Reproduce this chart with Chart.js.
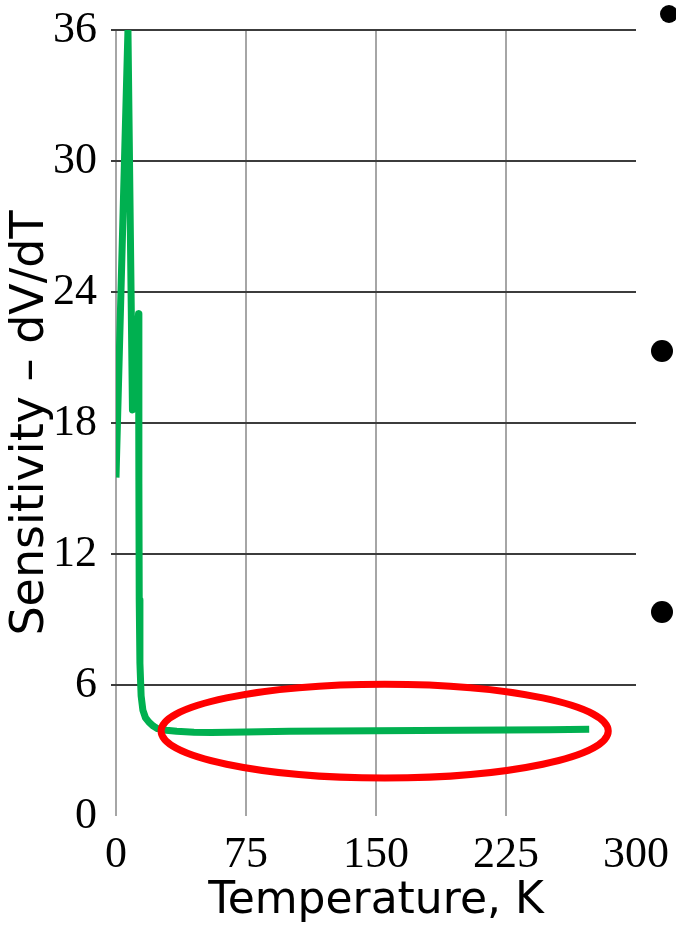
<!DOCTYPE html>
<html>
<head>
<meta charset="utf-8">
<script src="https://cdn.jsdelivr.net/npm/chart.js@4"></script>
<style>
	html, body { margin: 0; padding: 0; background: #fff; overflow: hidden; }
	#wrap { position: relative; width: 676px; height: 928px; }
	.dot { position: absolute; background: #000; border-radius: 50%; }
</style>
</head>
<body>
<div id="wrap">
	<canvas id="sensChart" width="676" height="928"></canvas>
	<div class="dot" style="left:660px; top:5px; width:18px; height:18px;"></div>
	<div class="dot" style="left:651px; top:340px; width:22px; height:22px;"></div>
	<div class="dot" style="left:651px; top:601px; width:22px; height:22px;"></div>
</div>
<script>
// data block
const temperature = [0, 6.9, 9.5, 13.0, 13.2, 13.4, 13.8, 14.5, 15.5, 17, 19, 21.5, 24, 29, 35, 45, 55, 75, 100, 150, 200, 250, 273];
const sensitivity = [15.5, 36, 18.6, 23.0, 15.4, 9.9, 7.0, 5.5, 4.85, 4.5, 4.3, 4.12, 4.0, 3.93, 3.88, 3.84, 3.83, 3.85, 3.88, 3.9, 3.93, 3.95, 3.97];
const xTicks = [0, 75, 150, 225, 300];
const yTicks = [0, 6, 12, 18, 24, 30, 36];

// highlighted region (data units)
const highlight = { t: 155, v: 3.89, dt: 129, dv: 2.15 };

const points = temperature.map((t, i) => ({ x: t, y: sensitivity[i] }));

// red ellipse drawn on top of the line
const ellipsePlugin = {
	id: 'ellipse',
	afterDatasetsDraw(chart) {
		const { ctx, scales } = chart;
		const cx = scales.x.getPixelForValue(highlight.t);
		const cy = scales.y.getPixelForValue(highlight.v);
		const rx = scales.x.getPixelForValue(highlight.t + highlight.dt) - cx;
		const ry = cy - scales.y.getPixelForValue(highlight.v + highlight.dv);
		ctx.save();
		ctx.beginPath();
		ctx.ellipse(cx, cy, rx, ry, 0, 0, Math.PI * 2);
		ctx.strokeStyle = '#ff0000';
		ctx.lineWidth = 7;
		ctx.stroke();
		ctx.restore();
	},
};

// no extra label padding, the layout padding decides the plot box
function noScalePadding(scale) {
	scale.paddingTop = 0;
	scale.paddingBottom = 0;
	scale.paddingLeft = 0;
	scale.paddingRight = 0;
}

const config = {
	type: 'line',
	data: {
		datasets: [
			{
				label: 'Sensitivity',
				data: points,
				borderColor: '#00b050',
				borderWidth: 7,
				borderJoinStyle: 'round',
				borderCapStyle: 'butt',
				pointRadius: 0,
				tension: 0,
				fill: false,
			},
		],
	},
	options: {
		responsive: false,
		animation: false,
		layout: { padding: { left: 0, right: 40, top: 30, bottom: 0 } },
		plugins: {
			legend: { display: false },
			tooltip: { enabled: false },
		},
		scales: {
			x: {
				type: 'linear',
				min: 0,
				max: 300,
				afterBuildTicks: (scale) => { scale.ticks = xTicks.map((v) => ({ value: v })); },
				afterFit: (scale) => { scale.height = 112; noScalePadding(scale); },
				ticks: {
					color: '#000',
					padding: 13,
					maxRotation: 0,
					font: { family: '"Liberation Serif", "Times New Roman", serif', size: 44 },
				},
				grid: {
					drawTicks: false,
					lineWidth: 2,
					color: (c) => (c.tick && c.tick.value === 300 ? 'rgba(0,0,0,0)' : '#a6a6a6'),
				},
				border: { display: false },
				title: {
					display: true,
					text: 'Temperature, K',
					color: '#000',
					padding: { top: 0, bottom: 0 },
					font: { family: '"DejaVu Sans", Verdana, sans-serif', size: 44 },
				},
			},
			y: {
				min: 0,
				max: 36,
				afterBuildTicks: (scale) => { scale.ticks = yTicks.map((v) => ({ value: v })); },
				afterFit: (scale) => { scale.width = 116; noScalePadding(scale); },
				ticks: {
					color: '#000',
					padding: 14,
					font: { family: '"Liberation Serif", "Times New Roman", serif', size: 44 },
				},
				grid: {
					tickLength: 5,
					lineWidth: 2,
					color: (c) => (c.tick && c.tick.value === 0 ? 'rgba(0,0,0,0)' : '#3c3c3c'),
				},
				border: { display: false },
				title: {
					display: true,
					text: 'Sensitivity – dV/dT',
					color: '#000',
					padding: { top: 3, bottom: 0 },
					font: { family: '"DejaVu Sans", Verdana, sans-serif', size: 46 },
				},
			},
		},
	},
	plugins: [ellipsePlugin],
};

const sensChart = new Chart(document.getElementById('sensChart'), config);
</script>
</body>
</html>
